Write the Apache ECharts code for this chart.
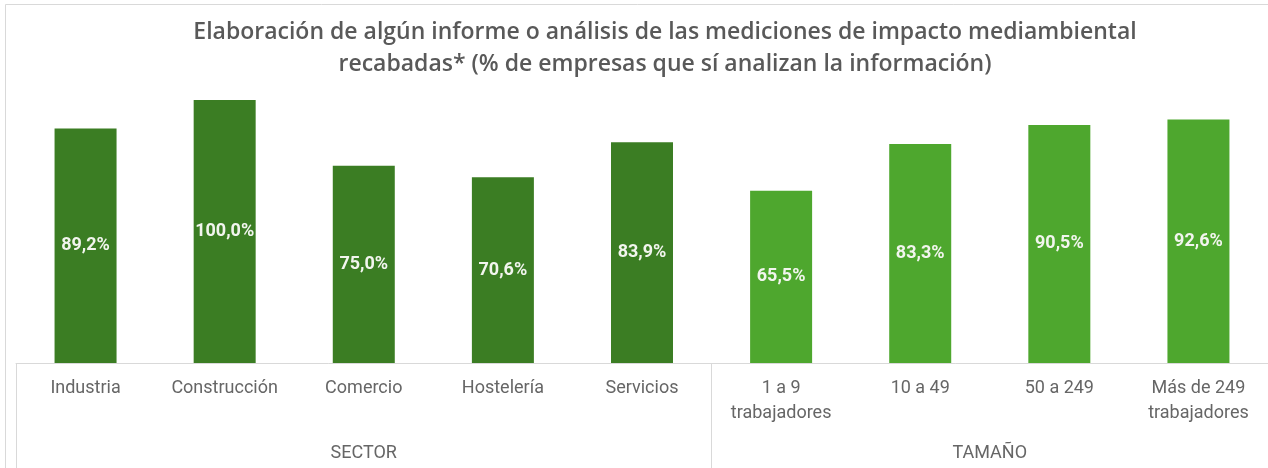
<!DOCTYPE html>
<html>
<head>
<meta charset="utf-8">
<script src="https://cdn.jsdelivr.net/npm/echarts@6/dist/echarts.min.js"></script>
<style>
html,body{margin:0;padding:0;background:#fff;}
#c{width:1268px;height:468px;}
</style>
</head>
<body>
<div id="c"></div>
<script>
var titleText = 'Elaboración de algún informe o análisis de las mediciones de impacto mediambiental\nrecabadas* (% de empresas que sí analizan la información)';
var categories = ['Industria', 'Construcción', 'Comercio', 'Hostelería', 'Servicios', '1 a 9\ntrabajadores', '10 a 49', '50 a 249', 'Más de 249\ntrabajadores'];
var values = [89.2, 100.0, 75.0, 70.6, 83.9, 65.5, 83.3, 90.5, 92.6];
var groupNames = ['SECTOR', 'TAMAÑO'];
var groupSizes = [5, 4];
var groupColors = ['#3B7D23', '#4EA72E'];

var groupOf = [];
groupSizes.forEach(function (n, g) { for (var i = 0; i < n; i++) groupOf.push(g); });
var boundaries = [0];
groupSizes.reduce(function (acc, n) { acc += n; boundaries.push(acc); return acc; }, 0);

var chart = echarts.init(document.getElementById('c'), null, {renderer: 'canvas'});
var option = {
  backgroundColor: '#ffffff',
  animation: false,
  title: {
    text: titleText,
    left: 660,
    top: 11,
    textAlign: 'center',
    textStyle: {
      fontFamily: 'Open Sans',
      fontWeight: 600,
      fontSize: 23,
      lineHeight: 32,
      color: '#595959'
    }
  },
  grid: { left: 16, top: 100, width: 1253, height: 263, containLabel: false },
  xAxis: {
    type: 'category',
    data: categories,
    boundaryGap: true,
    axisLine: { show: true, lineStyle: { color: '#d9d9d9', width: 1 } },
    axisTick: {
      show: true,
      length: 110,
      interval: function (index) { return boundaries.indexOf(index) >= 0; },
      lineStyle: { color: '#d9d9d9', width: 1 }
    },
    axisLabel: {
      interval: 0,
      margin: 13,
      fontFamily: 'Roboto',
      fontSize: 18,
      lineHeight: 25,
      color: '#666666'
    }
  },
  yAxis: {
    type: 'value', min: 0, max: 100, show: false,
    splitLine: { show: false }
  },
  series: [{
    type: 'bar',
    data: values.map(function (v, i) {
      return { value: v, itemStyle: { color: groupColors[groupOf[i]] } };
    }),
    barWidth: 62,
    label: {
      show: true,
      position: 'inside',
      fontFamily: 'Roboto',
      fontWeight: 'bold',
      fontSize: 18,
      color: '#f2f5ee',
      formatter: function (p) { return p.value.toFixed(1).replace('.', ',') + '%'; }
    }
  }],
  graphic: []
};
chart.setOption(option);

// group labels placed via axis scale
var graphics = [{
  type: 'rect',
  shape: { x: 5.5, y: 4.5, width: 1400, height: 600 },
  style: { fill: null, stroke: '#d9d9d9', lineWidth: 1 },
  silent: true
}];
var start = 0;
groupSizes.forEach(function (n, g) {
  var x1 = chart.convertToPixel({ xAxisIndex: 0 }, categories[start]);
  var x2 = chart.convertToPixel({ xAxisIndex: 0 }, categories[start + n - 1]);
  var y0 = chart.convertToPixel({ yAxisIndex: 0 }, 0);
  graphics.push({
    type: 'text',
    x: (x1 + x2) / 2,
    y: y0 + 90,
    style: {
      text: groupNames[g],
      fill: '#666666',
      font: '18px Roboto',
      textAlign: 'center',
      textVerticalAlign: 'middle'
    },
    silent: true
  });
  start += n;
});
chart.setOption({ graphic: graphics });
</script>
</body>
</html>
